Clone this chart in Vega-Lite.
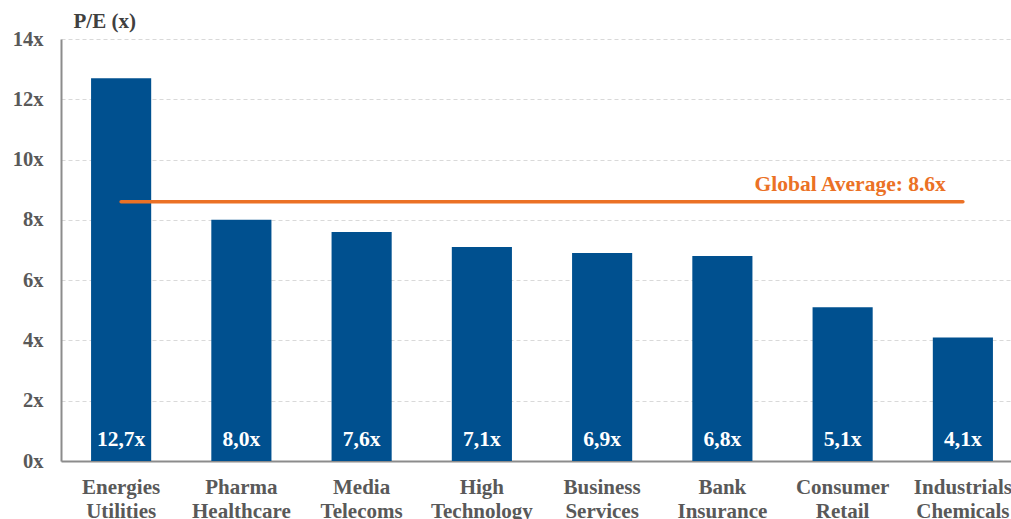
{
  "$schema": "https://vega.github.io/schema/vega-lite/v6.json",
  "autosize": "none",
  "padding": {"left": 61, "top": 39, "right": 0, "bottom": 58},
  "width": 962,
  "height": 422,
  "background": "white",
  "config": {
    "view": {"stroke": null},
    "font": "Liberation Serif"
  },
  "datasets": {
    "bars": [
      {"sector": "Energies Utilities", "pe": 12.7, "label": "12,7x"},
      {"sector": "Pharma Healthcare", "pe": 8.0, "label": "8,0x"},
      {"sector": "Media Telecoms", "pe": 7.6, "label": "7,6x"},
      {"sector": "High Technology", "pe": 7.1, "label": "7,1x"},
      {"sector": "Business Services", "pe": 6.9, "label": "6,9x"},
      {"sector": "Bank Insurance", "pe": 6.8, "label": "6,8x"},
      {"sector": "Consumer Retail", "pe": 5.1, "label": "5,1x"},
      {"sector": "Industrials Chemicals", "pe": 4.1, "label": "4,1x"}
    ],
    "avg": [
      {"sector": "Energies Utilities", "pe": 8.6},
      {"sector": "Industrials Chemicals", "pe": 8.6}
    ],
    "avgLabel": [
      {"sector": "Industrials Chemicals", "pe": 8.6, "text": "Global Average: 8.6x"}
    ]
  },
  "layer": [
    {
      "data": {"name": "bars"},
      "mark": {"type": "bar", "color": "#00508F"},
      "encoding": {
        "x": {
          "field": "sector", "type": "nominal", "sort": null,
          "scale": {"paddingInner": 0.5, "paddingOuter": 0.25},
          "axis": {
            "title": null,
            "labelExpr": "split(datum.label, ' ')",
            "labelAngle": 0,
            "labelFont": "Liberation Serif",
            "labelFontWeight": "bold",
            "labelFontSize": 21,
            "labelColor": "#595959",
            "labelLineHeight": 24,
            "labelPadding": 15,
            "labelBaseline": "top",
            "labelOverlap": false,
            "ticks": false,
            "domainColor": "#8c8c8c",
            "domainWidth": 2,
            "grid": false
          }
        },
        "y": {
          "field": "pe", "type": "quantitative",
          "scale": {"domain": [0, 14]},
          "axis": {
            "values": [0, 2, 4, 6, 8, 10, 12, 14],
            "labelExpr": "datum.value + 'x'",
            "labelFont": "Liberation Serif",
            "labelFontWeight": "bold",
            "labelFontSize": 20.5,
            "labelColor": "#595959",
            "labelPadding": 18,
            "ticks": false,
            "domainColor": "#8c8c8c",
            "domainWidth": 2,
            "grid": true,
            "gridColor": "#d9d9d9",
            "gridDash": [4, 3],
            "gridWidth": 1,
            "title": "P/E (x)",
            "titleAngle": 0,
            "titleAlign": "left",
            "titleBaseline": "alphabetic",
            "titleX": 12,
            "titleY": -12,
            "titleFont": "Liberation Serif",
            "titleFontWeight": "bold",
            "titleFontSize": 21,
            "titleColor": "#404040"
          }
        }
      }
    },
    {
      "data": {"name": "bars"},
      "mark": {"type": "text", "color": "white", "fontWeight": "bold", "fontSize": 21.5, "baseline": "alphabetic", "dy": -15, "font": "Liberation Serif"},
      "encoding": {
        "x": {"field": "sector", "type": "nominal", "sort": null},
        "y": {"datum": 0, "type": "quantitative"},
        "text": {"field": "label"}
      }
    },
    {
      "data": {"name": "avg"},
      "mark": {"type": "line", "color": "#EB7125", "strokeWidth": 3.5, "strokeCap": "round"},
      "encoding": {
        "x": {"field": "sector", "type": "nominal", "sort": null},
        "y": {"field": "pe", "type": "quantitative"}
      }
    },
    {
      "data": {"name": "avgLabel"},
      "mark": {"type": "text", "color": "#EB7125", "fontWeight": "bold", "fontSize": 21.5, "align": "right", "baseline": "alphabetic", "dx": -17, "dy": -11, "font": "Liberation Serif"},
      "encoding": {
        "x": {"field": "sector", "type": "nominal", "sort": null},
        "y": {"field": "pe", "type": "quantitative"},
        "text": {"field": "text"}
      }
    }
  ]
}
